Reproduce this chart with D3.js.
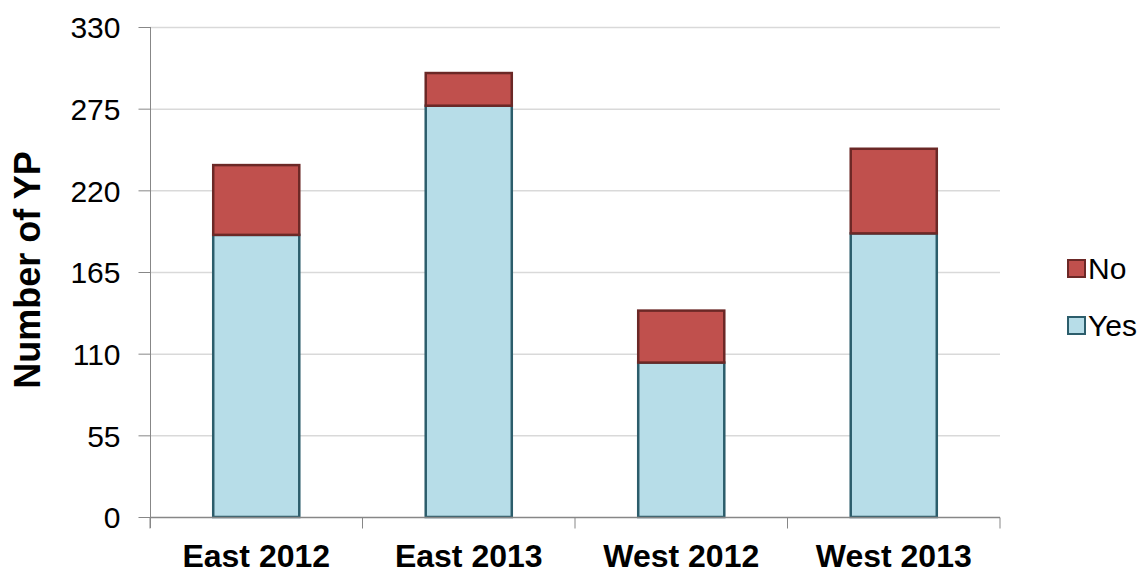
<!DOCTYPE html>
<html><head><meta charset="utf-8">
<script src="https://cdn.jsdelivr.net/npm/d3@7"></script>
<style>body{margin:0;background:#fff;font-family:"Liberation Sans",Arial,sans-serif;}</style>
</head><body><svg id="c" width="1148" height="575"></svg>
<script>
const categories = ["East 2012","East 2013","West 2012","West 2013"];
const yesValues = [190, 277, 104, 191];
const noValues = [47, 22, 35, 57];
const yTicks = [0,55,110,165,220,275,330];
const seriesNames = ["Yes","No"];
const colors = {Yes:{fill:"#b7dde8",stroke:"#2c5d6b"}, No:{fill:"#c0504d",stroke:"#6b2826"}};

const svg = d3.select("#c");
const m = {l:150, r:1000, t:27, b:517};
const x = d3.scaleBand().domain(categories).range([m.l, m.r]).paddingInner(0.595).paddingOuter(0.2975);
const y = d3.scaleLinear().domain([0,330]).range([m.b, m.t]);

// gridlines
svg.append("g").selectAll("line").data(yTicks.slice(1)).join("line")
  .attr("x1", m.l).attr("x2", m.r).attr("y1", d=>y(d)+0.5).attr("y2", d=>y(d)+0.5)
  .attr("stroke","#d9d9d9").attr("stroke-width",1.5);

// y axis
const ya = svg.append("g").attr("transform",`translate(${m.l+0.5},0)`)
  .call(d3.axisLeft(y).tickValues(yTicks).tickSize(12).tickPadding(18));
ya.attr("font-size",null).attr("font-family",null);
ya.select(".domain").attr("stroke","#878787").attr("d",`M0,${m.t}V${m.b+11}`);
ya.selectAll(".tick line").attr("stroke","#878787");
ya.selectAll(".tick text").style("font-size","30px").style("font-family","Liberation Sans, Arial, sans-serif").attr("fill","#000").attr("dy","0.36em");

// data stack
const data = categories.map((c,i)=>({cat:c, Yes:yesValues[i], No:noValues[i]}));
const stack = d3.stack().keys(seriesNames)(data);
svg.append("g").selectAll("g").data(stack).join("g")
  .attr("fill", d=>colors[d.key].fill).attr("stroke", d=>colors[d.key].stroke).attr("stroke-width",2.5)
  .selectAll("rect").data(d=>d).join("rect")
  .attr("x", d=>x(d.data.cat)).attr("width", x.bandwidth())
  .attr("y", d=>y(d[1])).attr("height", d=>y(d[0])-y(d[1]));

// x axis
const xb = d3.scaleLinear().domain([0,4]).range([m.l, m.r]);
const xa = svg.append("g").attr("transform",`translate(0,${m.b+0.5})`);
xa.append("line").attr("x1",m.l).attr("x2",m.r).attr("stroke","#878787").attr("stroke-width",1.5);
xa.selectAll("line.t").data([0,1,2,3,4]).join("line").attr("class","t")
  .attr("x1",d=>xb(d)).attr("x2",d=>xb(d)).attr("y1",0).attr("y2",11).attr("stroke","#878787");
xa.selectAll("text").data(categories).join("text")
  .attr("x", d=>x(d)+x.bandwidth()/2).attr("y", 49)
  .attr("text-anchor","middle").style("font-size","32px").attr("font-weight","bold").text(d=>d);

// y title
svg.append("text").attr("transform","translate(40,270) rotate(-90)")
  .attr("text-anchor","middle").style("font-size","36px").attr("font-weight","bold").text("Number of YP");

// legend
const leg = [{k:"No",y:268},{k:"Yes",y:325}];
const lg = svg.append("g").selectAll("g").data(leg).join("g").attr("transform",d=>`translate(1068,${d.y})`);
lg.append("rect").attr("x",0).attr("y",-8).attr("width",17).attr("height",17)
  .attr("fill",d=>colors[d.k].fill).attr("stroke",d=>colors[d.k].stroke).attr("stroke-width",2);
lg.append("text").attr("x",20).attr("y",11).style("font-size","30px").text(d=>d.k);
</script></body></html>
